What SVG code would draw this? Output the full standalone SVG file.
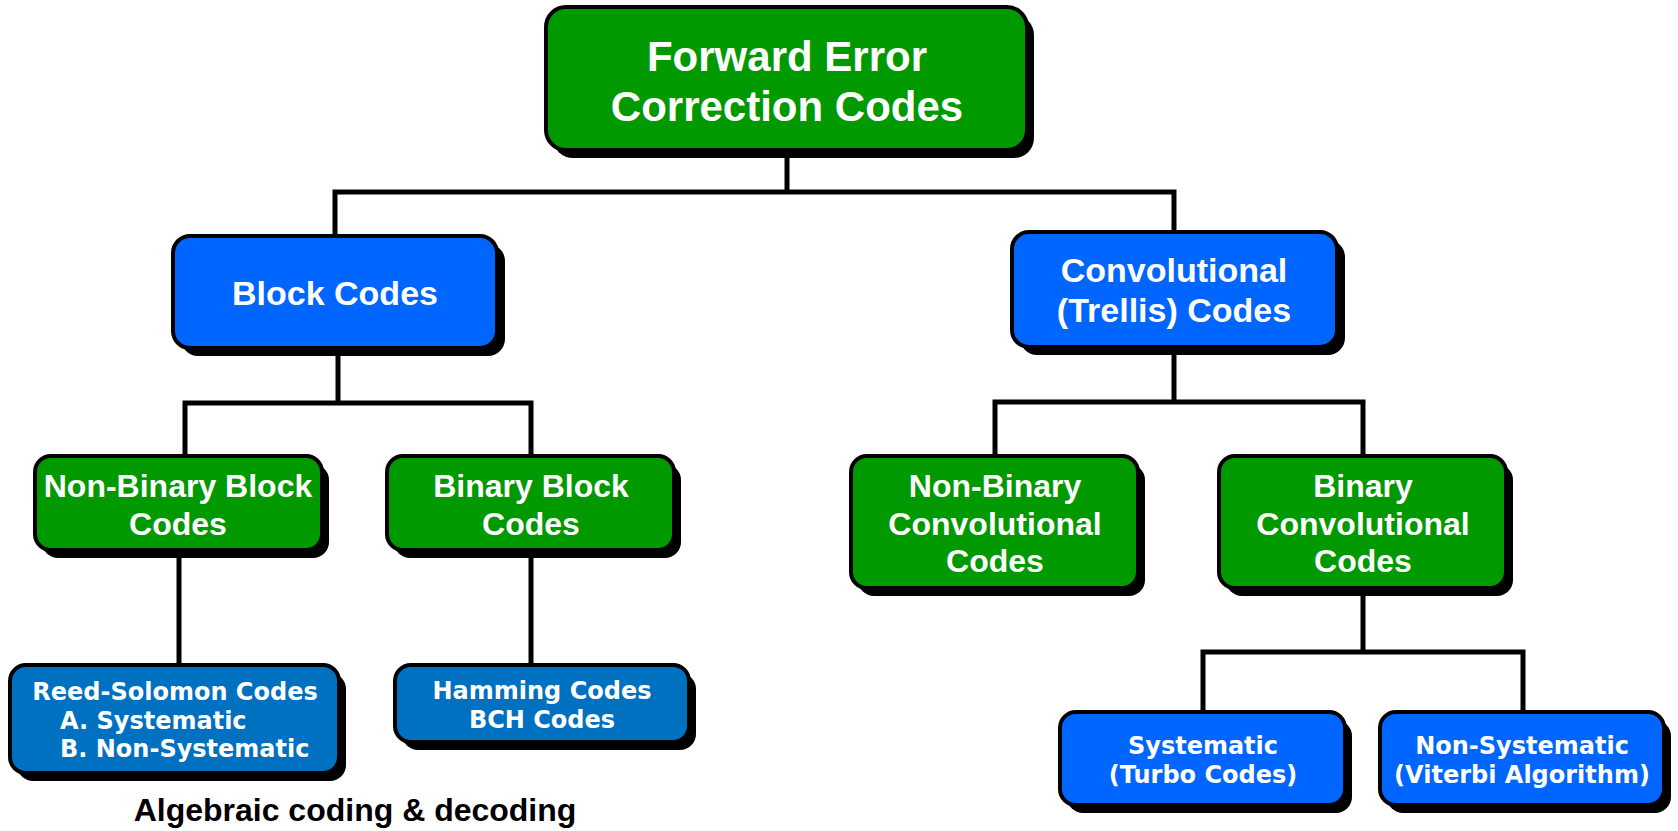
<svg xmlns="http://www.w3.org/2000/svg" width="1678" height="831" viewBox="0 0 1678 831">
<style>
.shadow{fill:#000}
.box{stroke:#000;stroke-width:4}
.green{fill:#009900}
.blue{fill:#0066FF}
.steel{fill:#0070C0}
.t{font-family:"Liberation Sans",Arial,sans-serif;font-weight:bold;fill:#fff;text-anchor:middle}
.s{font-family:"DejaVu Sans",Verdana,sans-serif;font-weight:bold;fill:#fff;font-size:24px}
.conn{fill:none;stroke:#000;stroke-width:5}
</style>
<rect width="1678" height="831" fill="#fff"/>
<g id="connectors">
<path class="conn" d="M787,150 V192"/>
<path class="conn" d="M335,236 V192 H1174 V232"/>
<path class="conn" d="M338,348 V403"/>
<path class="conn" d="M185,456 V403 H531 V456"/>
<path class="conn" d="M1174,347 V402"/>
<path class="conn" d="M995,456 V402 H1363 V456"/>
<path class="conn" d="M179,550 V665"/>
<path class="conn" d="M531,550 V665"/>
<path class="conn" d="M1363,588 V652"/>
<path class="conn" d="M1203,712 V652 H1523 V712"/>
</g>
<g id="fec">
<rect class="shadow" x="553" y="15" width="481" height="143" rx="20"/>
<rect class="box green" x="546" y="7" width="481" height="143" rx="20"/>
<text class="t" font-size="42" x="787" y="71">Forward Error</text>
<text class="t" font-size="42" x="787" y="121">Correction Codes</text>
</g>
<g id="block">
<rect class="shadow" x="181" y="244" width="324" height="112" rx="17"/>
<rect class="box blue" x="173" y="236" width="324" height="112" rx="17"/>
<text class="t" font-size="34" x="335" y="305">Block Codes</text>
</g>
<g id="conv">
<rect class="shadow" x="1020" y="240" width="325" height="115" rx="17"/>
<rect class="box blue" x="1012" y="232" width="325" height="115" rx="17"/>
<text class="t" font-size="34" x="1174" y="282">Convolutional</text>
<text class="t" font-size="34" x="1174" y="322">(Trellis) Codes</text>
</g>
<g id="nbblock">
<rect class="shadow" x="42" y="464" width="287" height="94" rx="16"/>
<rect class="box green" x="35" y="456" width="287" height="94" rx="16"/>
<text class="t" font-size="32" x="178" y="497">Non-Binary Block</text>
<text class="t" font-size="32" x="178" y="535">Codes</text>
</g>
<g id="bblock">
<rect class="shadow" x="394" y="464" width="287" height="94" rx="16"/>
<rect class="box green" x="387" y="456" width="287" height="94" rx="16"/>
<text class="t" font-size="32" x="531" y="497">Binary Block</text>
<text class="t" font-size="32" x="531" y="535">Codes</text>
</g>
<g id="nbconv">
<rect class="shadow" x="858" y="464" width="287" height="132" rx="16"/>
<rect class="box green" x="851" y="456" width="287" height="132" rx="16"/>
<text class="t" font-size="32" x="995" y="497">Non-Binary</text>
<text class="t" font-size="32" x="995" y="535">Convolutional</text>
<text class="t" font-size="32" x="995" y="572">Codes</text>
</g>
<g id="bconv">
<rect class="shadow" x="1226" y="464" width="287" height="132" rx="16"/>
<rect class="box green" x="1219" y="456" width="287" height="132" rx="16"/>
<text class="t" font-size="32" x="1363" y="497">Binary</text>
<text class="t" font-size="32" x="1363" y="535">Convolutional</text>
<text class="t" font-size="32" x="1363" y="572">Codes</text>
</g>
<g id="rs">
<rect class="shadow" x="17" y="673" width="329" height="108" rx="16"/>
<rect class="box steel" x="10" y="665" width="329" height="108" rx="16"/>
<text class="s" x="175" y="700" text-anchor="middle">Reed-Solomon Codes</text>
<text class="s" x="60" y="729">A. Systematic</text>
<text class="s" x="60" y="757">B. Non-Systematic</text>
</g>
<g id="ham">
<rect class="shadow" x="402" y="673" width="294" height="77" rx="16"/>
<rect class="box steel" x="395" y="665" width="294" height="77" rx="16"/>
<text class="s" x="542" y="699" text-anchor="middle">Hamming Codes</text>
<text class="s" x="542" y="728" text-anchor="middle">BCH Codes</text>
</g>
<g id="sys">
<rect class="shadow" x="1067" y="720" width="285" height="93" rx="16"/>
<rect class="box blue" x="1060" y="712" width="285" height="93" rx="16"/>
<text class="s" x="1203" y="754" text-anchor="middle">Systematic</text>
<text class="s" x="1203" y="783" text-anchor="middle">(Turbo Codes)</text>
</g>
<g id="nonsys">
<rect class="shadow" x="1387" y="720" width="284" height="93" rx="16"/>
<rect class="box blue" x="1380" y="712" width="284" height="93" rx="16"/>
<text class="s" x="1522" y="754" text-anchor="middle">Non-Systematic</text>
<text class="s" x="1522" y="783" text-anchor="middle">(Viterbi Algorithm)</text>
</g>
<g id="label">
<text x="355" y="821" font-family="Liberation Sans, Arial, sans-serif" font-weight="bold" font-size="32" text-anchor="middle" fill="#000">Algebraic coding &amp; decoding</text>
</g>
</svg>
